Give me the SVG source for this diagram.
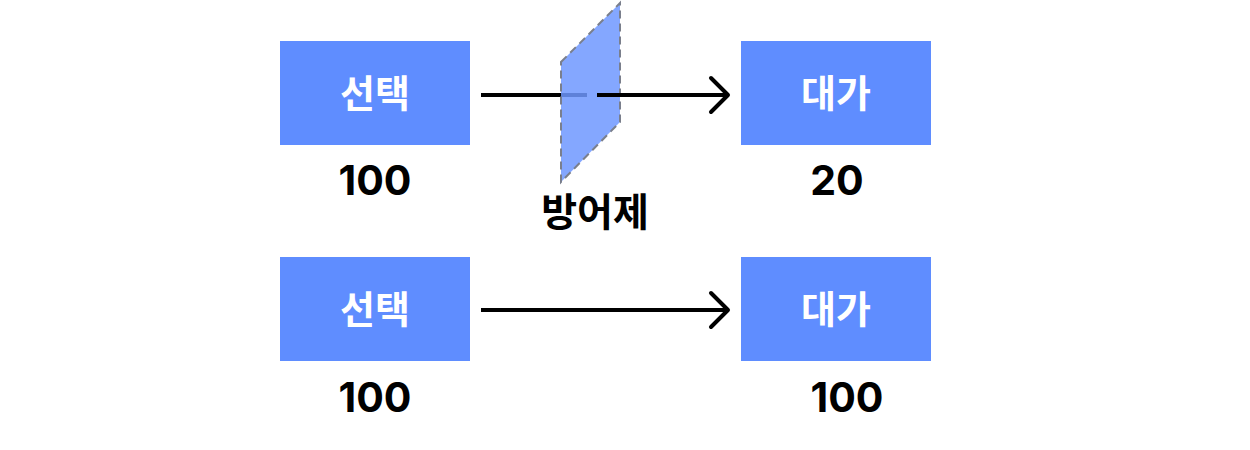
<svg xmlns="http://www.w3.org/2000/svg" width="1250" height="450" viewBox="0 0 1250 450">
<style>
.box{fill:#5f8dff}
.lbl{font-family:"Noto Sans CJK KR","Noto Sans",sans-serif;font-weight:700;font-size:38px;fill:#ffffff;text-anchor:middle}
.kr{font-family:"Noto Sans CJK KR","Noto Sans",sans-serif;font-weight:700;font-size:39px;fill:#000000;text-anchor:middle}
.num{font-family:Inter,"Noto Sans",sans-serif;font-weight:700;font-size:41px;fill:#000000;text-anchor:middle}
.ln{stroke:#000;stroke-width:4;fill:none;stroke-linecap:butt}
.head{stroke:#000;stroke-width:4;fill:none;stroke-linecap:round;stroke-linejoin:round}
</style>
<rect width="1250" height="450" fill="#ffffff"/>
<g id="connectors">
<line class="ln" x1="481" y1="95" x2="587" y2="95"/>
</g>
<g id="barrier">
<polygon points="561,62 620,3 620,122 561,182" fill="#6f98ff" fill-opacity="0.85" stroke="#7a7f8c" stroke-width="2" stroke-dasharray="8,5"/>
<text class="kr" x="595" y="226">방어제</text>
</g>
<g id="connectors-top">
<line class="ln" x1="597" y1="95" x2="728" y2="95"/>
<polyline class="head" points="711,78 728,95 711,112"/>
<line class="ln" x1="481" y1="310" x2="728" y2="310"/>
<polyline class="head" points="711,293 728,310 711,327"/>
</g>
<g id="choice1">
<rect class="box" x="280" y="41" width="190" height="104"/>
<text class="lbl" x="375" y="107">선택</text>
<text class="num" x="375" y="195">100</text>
</g>
<g id="cost1">
<rect class="box" x="741" y="41" width="190" height="104"/>
<text class="lbl" x="836" y="107">대가</text>
<text class="num" x="837" y="195">20</text>
</g>
<g id="choice2">
<rect class="box" x="280" y="257" width="190" height="104"/>
<text class="lbl" x="375" y="323">선택</text>
<text class="num" x="375" y="412">100</text>
</g>
<g id="cost2">
<rect class="box" x="741" y="257" width="190" height="104"/>
<text class="lbl" x="836" y="323">대가</text>
<text class="num" x="847" y="412">100</text>
</g>
</svg>
